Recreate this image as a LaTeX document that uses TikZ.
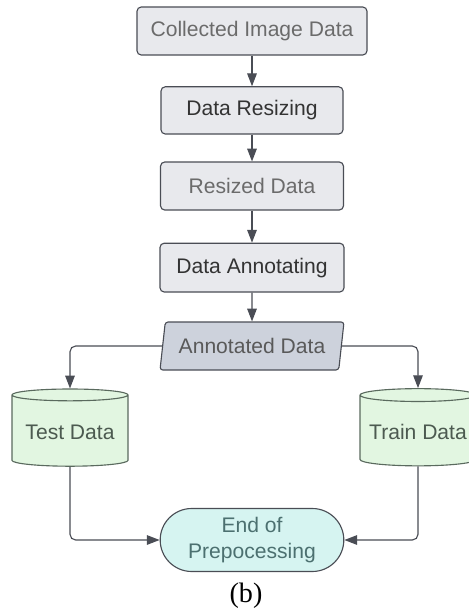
\documentclass[tikz,border=0pt]{standalone}
\usepackage{fontspec}
\setmainfont{Liberation Sans}
\newfontfamily\capfont{Liberation Serif}
\usetikzlibrary{arrows.meta,shapes.geometric,shapes.misc}
\definecolor{lineColor}{HTML}{4a4d55}
\definecolor{boxFill}{HTML}{e8e9ed}
\definecolor{ioFill}{HTML}{cdd2dc}
\definecolor{dbFill}{HTML}{e2f6e1}
\definecolor{dbLine}{HTML}{5a6a5e}
\definecolor{endFill}{HTML}{d6f4f1}
\tikzset{base box/.style={draw=lineColor, line width=0.8pt, font=\fontsize{15}{18}\selectfont}}
\tikzset{data box/.style={base box, fill=boxFill, rounded corners=3pt, text=black!58}}
\tikzset{step box/.style={base box, fill=boxFill, rounded corners=3pt, text=black!80}}
\tikzset{io box/.style={base box, fill=ioFill, trapezium, trapezium left angle=78,
    trapezium right angle=102, trapezium stretches body, rounded corners=2pt, text=black!65}}
\tikzset{db box/.style={base box, draw=dbLine, fill=dbFill, cylinder, shape border rotate=90,
    aspect=0.12, text=dbLine!85!black}}
\tikzset{end box/.style={base box, fill=endFill, rounded rectangle, align=center,
    text=teal!40!black!70}}
\begin{document}
\begin{tikzpicture}[-{Triangle[length=0.32cm,width=0.24cm]}, lineColor, line width=0.8pt]
  \useasboundingbox (0,0) rectangle (11.725,-15.3);
  \node[data box, minimum width=5.75cm, minimum height=1.2cm] at (6.3,-0.775) (collected) {Collected Image Data};
  \node[step box, minimum width=4.55cm, minimum height=1.18cm] at (6.3,-2.76) (resizing) {Data Resizing};
  \node[data box, minimum width=4.575cm, minimum height=1.2cm] at (6.3,-4.65) (resized) {Resized Data};
  \node[step box, minimum width=4.6cm, minimum height=1.22cm] at (6.3,-6.69) (annotating) {Data Annotating};
  \node[io box, minimum width=4.6cm, minimum height=1.2cm] at (6.3,-8.65) (annotated) {Annotated Data};
  \node[db box, minimum width=2.9cm, minimum height=1.93cm] at (1.75,-10.8) (test) {Test Data};
  \node[db box, minimum width=2.9cm, minimum height=1.93cm] at (10.45,-10.8) (train) {Train Data};
  \node[end box, minimum width=4.825cm, minimum height=1.575cm] at (6.3,-13.5) (endprep) {End of\\Prepocessing};
  \node[-, text=black, font=\capfont\fontsize{20}{24}\selectfont] at (6.15,-14.9) (caption) {(b)};

  \draw (collected) -- (resizing);
  \draw (resizing) -- (resized);
  \draw (resized) -- (annotating);
  \draw (annotating) -- (annotated);
  \draw[rounded corners=4pt] (annotated.west) -| (test.north);
  \draw[rounded corners=4pt] (annotated.east) -| (train.north);
  \draw[rounded corners=4pt] (test.south) |- (endprep.west);
  \draw[rounded corners=4pt] (train.south) |- (endprep.east);
\end{tikzpicture}
\end{document}
